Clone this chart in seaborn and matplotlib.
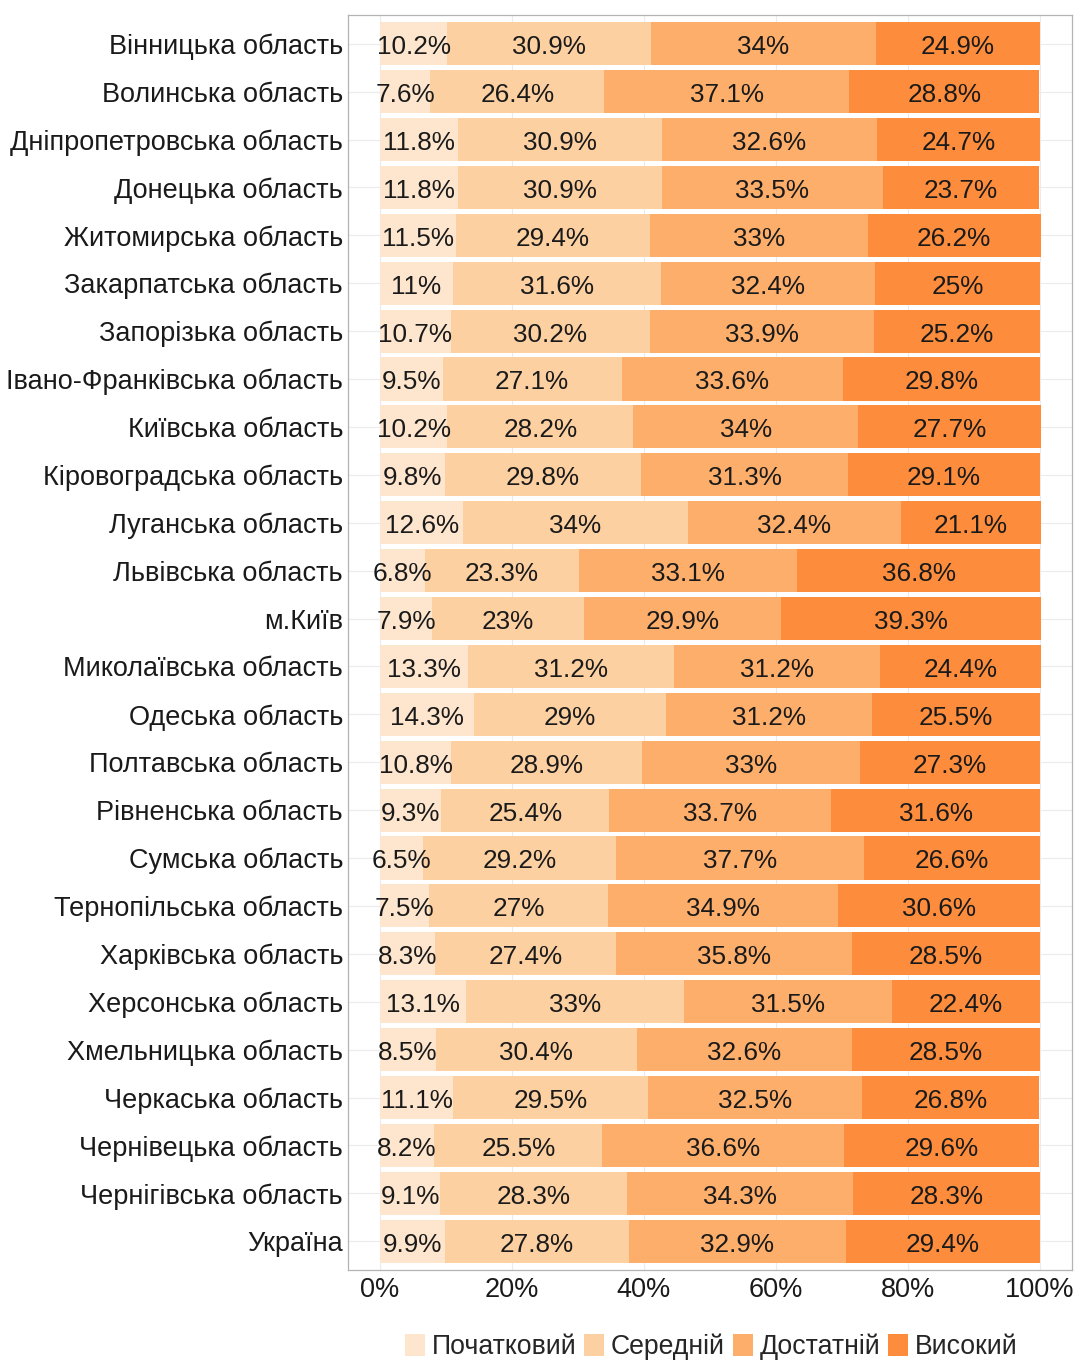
import pandas as pd
import seaborn as sns
import matplotlib.pyplot as plt
from matplotlib.patches import Patch

# =============================
# DATA
# =============================

regions = [
    "Вінницька область", "Волинська область", "Дніпропетровська область",
    "Донецька область", "Житомирська область", "Закарпатська область",
    "Запорізька область", "Івано-Франківська область", "Київська область",
    "Кіровоградська область", "Луганська область", "Львівська область",
    "м.Київ", "Миколаївська область", "Одеська область", "Полтавська область",
    "Рівненська область", "Сумська область", "Тернопільська область",
    "Харківська область", "Херсонська область", "Хмельницька область",
    "Черкаська область", "Чернівецька область", "Чернігівська область",
    "Україна",
]

levels = ["Початковий", "Середній", "Достатній", "Високий"]

initial = [10.2, 7.6, 11.8, 11.8, 11.5, 11, 10.7, 9.5, 10.2, 9.8, 12.6, 6.8, 7.9,
           13.3, 14.3, 10.8, 9.3, 6.5, 7.5, 8.3, 13.1, 8.5, 11.1, 8.2, 9.1, 9.9]
middle = [30.9, 26.4, 30.9, 30.9, 29.4, 31.6, 30.2, 27.1, 28.2, 29.8, 34, 23.3, 23,
          31.2, 29, 28.9, 25.4, 29.2, 27, 27.4, 33, 30.4, 29.5, 25.5, 28.3, 27.8]
sufficient = [34, 37.1, 32.6, 33.5, 33, 32.4, 33.9, 33.6, 34, 31.3, 32.4, 33.1, 29.9,
              31.2, 31.2, 33, 33.7, 37.7, 34.9, 35.8, 31.5, 32.6, 32.5, 36.6, 34.3, 32.9]
high = [24.9, 28.8, 24.7, 23.7, 26.2, 25, 25.2, 29.8, 27.7, 29.1, 21.1, 36.8, 39.3,
        24.4, 25.5, 27.3, 31.6, 26.6, 30.6, 28.5, 22.4, 28.5, 26.8, 29.6, 28.3, 29.4]

colors = ["#FEE6CE", "#FDD0A2", "#FDAE6B", "#FD8D3C"]

df = pd.DataFrame({"region": regions, levels[0]: initial, levels[1]: middle,
                   levels[2]: sufficient, levels[3]: high})
cum = df[levels].cumsum(axis=1)

# =============================
# PLOT
# =============================

sns.set_style("white")
plt.rcParams["font.family"] = ["Liberation Sans", "DejaVu Sans"]

fig = plt.figure(figsize=(10.76, 13.61), dpi=100)
ax = fig.add_axes([0.3234, 0.0669, 0.6729, 0.9221])

# stacked bars: draw cumulative totals from the largest down
for lvl, col in reversed(list(zip(levels, colors))):
    sns.barplot(x=cum[lvl], y=df["region"], orient="h", color=col, width=0.9,
                saturation=1, linewidth=0, ax=ax, zorder=2)

# value labels in the middle of each segment
for i, row in df.iterrows():
    start = 0
    for lvl in levels:
        v = row[lvl]
        ax.text(start + v / 2, i + 0.02, f"{v:g}%", ha="center", va="center_baseline",
                fontsize=18.8, color="#1a1a1a", zorder=3)
        start += v

ax.set_xlim(-4.85, 104.85)
ax.set_ylim(len(regions) - 0.4, -0.6)
ax.set_xticks([0, 20, 40, 60, 80, 100])
ax.set_xticklabels(["0%", "20%", "40%", "60%", "80%", "100%"])
ax.set_xlabel("")
ax.set_ylabel("")

ax.grid(True, color="#ebebeb", linewidth=0.8, zorder=0)
ax.set_axisbelow(True)
for s in ax.spines.values():
    s.set_color("#b3b3b3")
    s.set_linewidth(0.9)
ax.tick_params(axis="both", length=3, width=0.8, color="#b3b3b3",
               labelsize=19.5, labelcolor="#1a1a1a")
ax.tick_params(axis="y", pad=0.5)
ax.tick_params(axis="x", pad=2)

handles = [Patch(facecolor=c, edgecolor="none", label=l) for c, l in zip(colors, levels)]
fig.legend(handles=handles, loc="center", bbox_to_anchor=(0.661, 0.0105), ncol=4,
           frameon=False, fontsize=19.2, handlelength=0.75, handleheight=0.9,
           handletextpad=0.25, columnspacing=0.3)

fig.savefig("out.png", dpi=100, facecolor="white")
